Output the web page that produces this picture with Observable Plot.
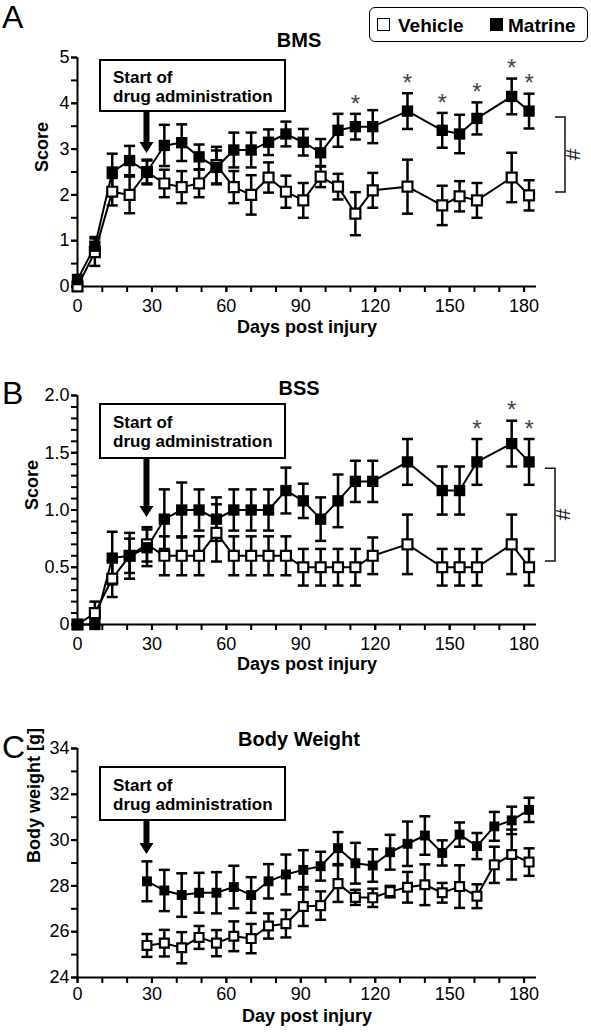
<!DOCTYPE html>
<html>
<head>
<meta charset="utf-8">
<script src="https://cdn.jsdelivr.net/npm/d3@7"></script>
<script src="https://cdn.jsdelivr.net/npm/@observablehq/plot@0.6"></script>
<style>
  body { margin: 0; background: #fff; font-family: "Liberation Sans", Arial, sans-serif; }
  #wrap { position: relative; width: 591px; height: 1032px; overflow: hidden; background: #fff; }
  .panel { position: absolute; left: 0; width: 591px; }
  .letter { position: absolute; font-size: 32px; line-height: 1; color: #000; }
  .title { position: absolute; font-weight: bold; font-size: 20px; line-height: 1; transform: translate(-50%, -50%); white-space: nowrap; color: #000; }
  .legend { position: absolute; left: 369px; top: 7px; width: 219px; height: 35px; box-sizing: border-box; border: 1.5px solid #000; border-radius: 6px; background: #fff; }
  .legend .sq { position: absolute; top: 10px; width: 13px; height: 13px; box-sizing: border-box; border: 1.5px solid #000; }
  .legend .lt { position: absolute; top: 50%; transform: translateY(-50%); font-weight: bold; font-size: 19px; line-height: 1; }
</style>
</head>
<body>
<div id="wrap">
  <div class="panel" id="pA" style="top:0px"></div>
  <div class="panel" id="pB" style="top:344px"></div>
  <div class="panel" id="pC" style="top:688px"></div>
  <div class="letter" style="left:2px;top:1px">A</div>
  <div class="letter" style="left:2px;top:377px">B</div>
  <div class="letter" style="left:2px;top:731px">C</div>
  <div class="title" style="left:299px;top:40px">BMS</div>
  <div class="title" style="left:299px;top:388px">BSS</div>
  <div class="title" style="left:299px;top:739px">Body Weight</div>
  <div class="legend">
    <div class="sq" style="left:7px;background:#fff"></div>
    <div class="lt" style="left:28px">Vehicle</div>
    <div class="sq" style="left:120px;background:#000"></div>
    <div class="lt" style="left:138px">Matrine</div>
  </div>
</div>
<script>
// ---------------- DATA ----------------
const seriesNames = ["Vehicle", "Matrine"];

const scoreDays = [0, 7, 14, 21, 28, 35, 42, 49, 56, 63, 70, 77, 84, 91, 98, 105, 112, 119, 133, 147, 154, 161, 175, 182];

const bmsVehicle    = [0, 0.75, 2.07, 2.0, 2.5, 2.25, 2.17, 2.25, 2.65, 2.17, 2.0, 2.38, 2.07, 1.88, 2.4, 2.18, 1.59, 2.1, 2.18, 1.77, 1.97, 1.88, 2.38, 1.99];
const bmsVehicleSem = [0.05, 0.3, 0.3, 0.4, 0.27, 0.3, 0.35, 0.3, 0.4, 0.35, 0.43, 0.33, 0.35, 0.38, 0.23, 0.28, 0.47, 0.38, 0.59, 0.43, 0.33, 0.38, 0.54, 0.33];
const bmsMatrine    = [0.15, 0.88, 2.5, 2.75, 2.5, 3.08, 3.14, 2.83, 2.6, 2.98, 2.98, 3.15, 3.33, 3.15, 2.92, 3.41, 3.49, 3.49, 3.83, 3.41, 3.33, 3.67, 4.15, 3.83];
const bmsMatrineSem = [0.1, 0.2, 0.4, 0.32, 0.25, 0.45, 0.4, 0.27, 0.37, 0.38, 0.38, 0.28, 0.27, 0.29, 0.3, 0.36, 0.28, 0.36, 0.39, 0.38, 0.42, 0.35, 0.39, 0.38];
const bmsStarDays = [112, 133, 147, 161, 175, 182];
const bmsBracket = [2.05, 3.69];

const bssVehicle    = [0, 0.1, 0.4, 0.6, 0.7, 0.6, 0.6, 0.6, 0.8, 0.6, 0.6, 0.6, 0.6, 0.5, 0.5, 0.5, 0.5, 0.6, 0.7, 0.5, 0.5, 0.5, 0.7, 0.5];
const bssVehicleSem = [0, 0.1, 0.16, 0.15, 0.15, 0.17, 0.17, 0.17, 0.25, 0.17, 0.17, 0.17, 0.17, 0.16, 0.16, 0.16, 0.16, 0.16, 0.26, 0.16, 0.16, 0.16, 0.26, 0.16];
const bssMatrine    = [0, 0, 0.58, 0.6, 0.67, 0.92, 1.0, 1.0, 0.92, 1.0, 1.0, 1.0, 1.17, 1.08, 0.92, 1.08, 1.25, 1.25, 1.42, 1.17, 1.17, 1.42, 1.58, 1.42];
const bssMatrineSem = [0, 0, 0.23, 0.2, 0.16, 0.26, 0.24, 0.18, 0.19, 0.18, 0.18, 0.18, 0.2, 0.15, 0.19, 0.23, 0.18, 0.18, 0.2, 0.21, 0.21, 0.2, 0.2, 0.2];
const bssStarDays = [161, 175, 182];
const bssBracket = [0.55, 1.36];

const weightDays = [28, 35, 42, 49, 56, 63, 70, 77, 84, 91, 98, 105, 112, 119, 126, 133, 140, 147, 154, 161, 168, 175, 182];
const bwVehicle    = [25.4, 25.5, 25.3, 25.75, 25.5, 25.8, 25.7, 26.25, 26.35, 27.1, 27.14, 28.1, 27.5, 27.48, 27.75, 27.94, 28.05, 27.7, 27.97, 27.55, 28.92, 29.37, 29.04];
const bwVehicleSem = [0.5, 0.58, 0.68, 0.5, 0.57, 0.65, 0.64, 0.55, 0.6, 0.85, 0.62, 0.8, 0.33, 0.4, 0.25, 0.67, 0.89, 0.43, 0.93, 0.52, 0.79, 1.09, 0.6];
const bwMatrine    = [28.2, 27.8, 27.6, 27.7, 27.7, 27.95, 27.6, 28.2, 28.5, 28.7, 28.86, 29.65, 28.99, 28.89, 29.47, 29.84, 30.2, 29.44, 30.24, 29.74, 30.6, 30.86, 31.32];
const bwMatrineSem = [0.87, 0.9, 0.95, 0.87, 0.9, 0.93, 0.78, 0.75, 0.87, 0.86, 0.63, 0.7, 0.89, 0.71, 0.76, 0.97, 0.84, 0.55, 0.53, 0.57, 0.63, 0.6, 0.53];

const drugStartDay = 28;
const annotationLines = ["Start of", "drug administration"];

const xDomain = [0, 185];
const xTickValues = [0, 30, 60, 90, 120, 150, 180];
const xMinorTicks = [0, 10, 20, 30, 40, 50, 60, 70, 80, 90, 100, 110, 120, 130, 140, 150, 160, 170, 180];

const yDomainA = [0, 5];
const yTicksA = [0, 1, 2, 3, 4, 5];
const yMinorA = [0, 0.5, 1, 1.5, 2, 2.5, 3, 3.5, 4, 4.5, 5];
const yDomainB = [0, 2];
const yTicksB = [0, 0.5, 1, 1.5, 2];
const yMinorB = [0, 0.1, 0.2, 0.3, 0.4, 0.5, 0.6, 0.7, 0.8, 0.9, 1, 1.1, 1.2, 1.3, 1.4, 1.5, 1.6, 1.7, 1.8, 1.9, 2];
const yDomainC = [24, 34];
const yTicksC = [24, 26, 28, 30, 32, 34];
const yMinorC = [24, 25, 26, 27, 28, 29, 30, 31, 32, 33, 34];

// ---------------- HELPERS ----------------
const FONT = "Liberation Sans, Arial, sans-serif";
const capSymbol = { draw(ctx, size) { const w = Math.sqrt(size / Math.PI); ctx.moveTo(-w, 0); ctx.lineTo(w, 0); } };

function rows(days, vals, sems, series) {
  return days.map((d, i) => ({ day: d, v: vals[i], s: sems[i], series }));
}

function annotationMark(cfg) {
  return (index, scales, values, dims) => {
    const g = d3.create("svg:g");
    const left = dims.marginLeft + cfg.left, top = dims.marginTop + cfg.top;
    g.append("rect").attr("x", left).attr("y", top).attr("width", 185).attr("height", cfg.h)
      .attr("fill", "white").attr("stroke", "black").attr("stroke-width", 2);
    const t = g.append("text").attr("font-family", FONT).attr("font-size", 17).attr("font-weight", "bold")
      .attr("fill", "black").attr("text-anchor", "start");
    annotationLines.forEach((line, i) => {
      t.append("tspan").attr("x", left + 13).attr("y", top + cfg.l1 + i * 19).attr("dy", "0.36em").text(line);
    });
    const ax = scales.x(drugStartDay);
    const tip = dims.marginTop + cfg.tip;
    g.append("rect").attr("x", ax - 3).attr("y", top + cfg.h).attr("width", 6).attr("height", tip - 10 - top - cfg.h).attr("fill", "black");
    g.append("path").attr("d", `M${ax - 7},${tip - 11}L${ax + 7},${tip - 11}L${ax},${tip}Z`).attr("fill", "black");
    return g.node();
  };
}

function bracketMark(range, cfg) {
  return (index, scales, values, dims) => {
    const g = d3.create("svg:g");
    const bx = dims.width - dims.marginRight + cfg.off;
    const y1 = scales.y(range[0]), y2 = scales.y(range[1]);
    g.append("path").attr("d", `M${bx - 10},${y1}H${bx}V${y2}H${bx - 10}`)
      .attr("fill", "none").attr("stroke", "#111").attr("stroke-width", 1.5);
    const cy = (y1 + y2) / 2;
    g.append("text").attr("transform", `translate(${bx + cfg.hashOff},${cy}) rotate(90)`)
      .attr("text-anchor", "middle").attr("dy", "0.35em").attr("font-family", FONT).attr("font-size", 21)
      .attr("fill", "#111").text("#");
    return g.node();
  };
}

function panel(cfg) {
  const veh = rows(cfg.days, cfg.veh, cfg.vehSem, "Vehicle");
  const mat = rows(cfg.days, cfg.mat, cfg.matSem, "Matrine");
  const all = veh.concat(mat);
  const stars = mat.filter(d => cfg.stars.includes(d.day));
  const lw = 2.5;
  return Plot.plot({
    width: 591,
    height: 344,
    marginLeft: 77,
    marginRight: 55,
    marginTop: cfg.marginTop,
    marginBottom: cfg.marginBottom,
    style: { fontFamily: FONT, fontSize: "18px", color: "black", background: "transparent", overflow: "visible" },
    x: { domain: xDomain },
    y: { domain: cfg.yDomain },
    marks: [
      Plot.axisX({ ticks: xMinorTicks, tickSize: 6, strokeWidth: 2, tickFormat: () => "", label: null }),
      Plot.axisX({ ticks: xTickValues, tickSize: 6, strokeWidth: 2, tickPadding: cfg.xPad, fontSize: 18, label: null }),
      Plot.axisY({ ticks: cfg.yMinor, tickSize: 6, strokeWidth: 2, tickFormat: () => "", label: null }),
      Plot.axisY({ ticks: cfg.yTicks, tickSize: 6, strokeWidth: 2, tickPadding: 2, fontSize: 18, tickFormat: cfg.yFormat, label: null }),
      Plot.ruleY([cfg.yDomain[0]], { strokeWidth: 2 }),
      Plot.ruleX([xDomain[0]], { strokeWidth: 2 }),
      Plot.text([cfg.xLabel], { frameAnchor: "bottom", dy: cfg.xLabelDy, fontWeight: "bold", fontSize: 18 }),
      Plot.text([cfg.yLabel], { frameAnchor: "left", rotate: -90, dx: cfg.yLabelDx, fontWeight: "bold", fontSize: 18 }),
      Plot.ruleX(all, { x: "day", y1: d => d.v - d.s, y2: d => d.v + d.s, stroke: "black", strokeWidth: lw }),
      Plot.dot(all, { x: "day", y: d => d.v + d.s, symbol: capSymbol, r: 5.5, stroke: "black", fill: "none", strokeWidth: lw }),
      Plot.dot(all, { x: "day", y: d => d.v - d.s, symbol: capSymbol, r: 5.5, stroke: "black", fill: "none", strokeWidth: lw }),
      Plot.line(veh, { x: "day", y: "v", stroke: "black", strokeWidth: 2 }),
      Plot.line(mat, { x: "day", y: "v", stroke: "black", strokeWidth: 2 }),
      Plot.dot(veh, { x: "day", y: "v", symbol: "square", r: cfg.rV, fill: "white", stroke: "black", strokeWidth: 2.2 }),
      Plot.dot(mat, { x: "day", y: "v", symbol: "square", r: cfg.rM, fill: "black", stroke: "none" }),
      Plot.text(stars, { x: "day", y: d => d.v + d.s, text: () => "*", dy: -10, fontSize: 24, fill: "#444" }),
      ...(cfg.bracket ? [bracketMark(cfg.bracket, cfg.bracketCfg)] : []),
      annotationMark(cfg.annot)
    ]
  });
}

const fmtB = d => d === 0 ? "0" : d.toFixed(1);

document.getElementById("pA").append(panel({
  days: scoreDays, veh: bmsVehicle, vehSem: bmsVehicleSem, mat: bmsMatrine, matSem: bmsMatrineSem,
  yDomain: yDomainA, yTicks: yTicksA, yMinor: yMinorA, yFormat: d => String(d),
  marginTop: 57, marginBottom: 58, xPad: 7, xLabel: "Days post injury", xLabelDy: 46, yLabel: "Score", yLabelDx: -35,
  rV: 5.6, rM: 6.4, stars: bmsStarDays, bracket: bmsBracket, bracketCfg: { off: 29, hashOff: 8 },
  annot: { left: 23, top: 3, h: 51, l1: 17, tip: 96 }
}));
document.getElementById("pB").append(panel({
  days: scoreDays, veh: bssVehicle, vehSem: bssVehicleSem, mat: bssMatrine, matSem: bssMatrineSem,
  yDomain: yDomainB, yTicks: yTicksB, yMinor: yMinorB, yFormat: fmtB,
  marginTop: 51, marginBottom: 64, xPad: 7, xLabel: "Days post injury", xLabelDy: 45, yLabel: "Score", yLabelDx: -45,
  rV: 5.6, rM: 6.4, stars: bssStarDays, bracket: bssBracket, bracketCfg: { off: 19, hashOff: 8 },
  annot: { left: 23, top: 9, h: 54, l1: 18, tip: 122 }
}));
document.getElementById("pC").append(panel({
  days: weightDays, veh: bwVehicle, vehSem: bwVehicleSem, mat: bwMatrine, matSem: bwMatrineSem,
  yDomain: yDomainC, yTicks: yTicksC, yMinor: yMinorC, yFormat: d => String(d),
  marginTop: 60, marginBottom: 55, xPad: 4, xLabel: "Day post injury", xLabelDy: 44, yLabel: "Body weight [g]", yLabelDx: -43,
  rV: 5.0, rM: 5.6, stars: [], bracket: null,
  annot: { left: 23, top: 19, h: 53, l1: 18, tip: 106 }
}));
</script>
</body>
</html>
